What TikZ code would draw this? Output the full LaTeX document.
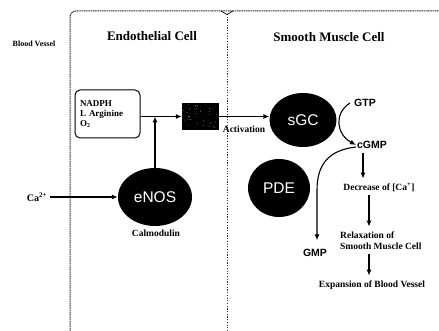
\documentclass[tikz,border=0pt]{standalone}
\usepackage{fontspec}
\setmainfont{Liberation Serif}
\newfontfamily\arialf{Liberation Sans}
\usetikzlibrary{arrows.meta,shapes.geometric}
\begin{document}
\begin{tikzpicture}[x=1pt,y=-1pt,
  lbl/.style={font=\bfseries\fontsize{9.5}{11}\selectfont, inner sep=0pt},
  ttl/.style={font=\bfseries\fontsize{13}{14}\selectfont, inner sep=0pt},
  sanslbl/.style={font=\arialf\bfseries\fontsize{10.5}{11}\selectfont, inner sep=0pt},
  blob/.style={ellipse, fill=black, text=white, font=\arialf\fontsize{15.5}{16}\selectfont, inner sep=0pt},
  arr/.style={line width=1.1pt, -{Latex[length=6pt,width=5pt]}},
  border/.style={dash pattern=on 1.2pt off 0.6pt, line width=1pt, black!80}]

\useasboundingbox (0,0) rectangle (439,331);

% borders
\draw[border, rounded corners=6pt] (70,331) -- (70,11) -- (439,11);
\draw[border, dash pattern=on 1.2pt off 1.5pt] (227,14) -- (227,331);
\draw[line width=0.7pt] (221,11) -- (227,14.5) -- (233,11);

% titles
\node[lbl, font=\bfseries\fontsize{8}{9}\selectfont] (bv) at (34,44) {Blood Vessel};
\node[ttl] (ec) at (152,36) {Endothelial Cell};
\node[ttl] (smc) at (329,37) {Smooth Muscle Cell};

% endothelial
\node[draw, rounded corners=5pt, line width=1pt, minimum width=65pt, minimum height=48pt,
      text width=55pt, inner xsep=5pt, align=left, font=\bfseries\fontsize{9}{10}\selectfont]
      (box) at (107.5,114) {NADPH\\L Arginine\\O\textsubscript{2}};
\node[fill=black, minimum width=37pt, minimum height=27pt, inner sep=0pt] (sq) at (200.5,116.5) {};
\foreach \i in {1,...,45} {
  \pgfmathsetmacro{\px}{183+rnd*35}
  \pgfmathsetmacro{\py}{104+rnd*25}
  \fill[gray!60] (\px,\py) circle (0.35pt);
}
\node[blob, minimum width=74pt, minimum height=58pt] (enos) at (155,197) {eNOS};
\node[lbl] (calm) at (156,233) {Calmodulin};
\node[lbl, font=\bfseries\fontsize{10}{11}\selectfont] (ca) at (37,197) {Ca\textsuperscript{2+}};
\coordinate (j) at (enos.north |- sq.west);

\draw[arr] (box.east |- sq.west) -- (sq.west);
\draw[arr] (enos.north) -- (j);
\draw[arr] ([xshift=3pt]ca.east) -- (enos.west);

% smooth muscle
\node[blob, minimum width=67pt, minimum height=54pt] (sgc) at (303,120) {sGC};
\node[lbl] (act) at (244,129) {Activation};
\draw[arr] (sq.east) -- (sq.east -| sgc.west);

\node[sanslbl] (gtp) at (365,103) {GTP};
\node[sanslbl] (cgmp) at (372,145) {cGMP};
\node[blob, minimum width=62pt, minimum height=58pt] (pde) at (279,188) {PDE};
\node[sanslbl, outer ysep=9pt] (gmp) at (315,253) {GMP};

\draw[arr] ([xshift=-4pt]gtp.west) .. controls (334,113) and (336,134) .. ([xshift=-1pt]cgmp.west);
\coordinate (g1) at (317,190);
\draw[arr] ([xshift=-1pt,yshift=-2pt]cgmp.west) .. controls (330,150) and (317,163) .. (g1) -- (g1 |- gmp.north);

\coordinate (c1) at (363,0);
\coordinate (c2) at (369,0);
\node[lbl, outer ysep=4pt] (dec) at (379,187) {Decrease of [Ca\textsuperscript{+}]};
\node[lbl, align=left, anchor=west, outer ysep=5pt] (rel) at (340,240.5) {Relaxation of\\Smooth Muscle Cell};
\node[lbl, outer ysep=5pt] (exp) at (372,285) {Expansion of Blood Vessel};

\draw[arr] ([yshift=-4pt]cgmp.south -| c1) -- (dec.north -| c1);
\draw[arr] (dec.south -| c2) -- (rel.north -| c2);
\draw[arr] (rel.south -| c2) -- (exp.north -| c2);
\end{tikzpicture}
\end{document}
